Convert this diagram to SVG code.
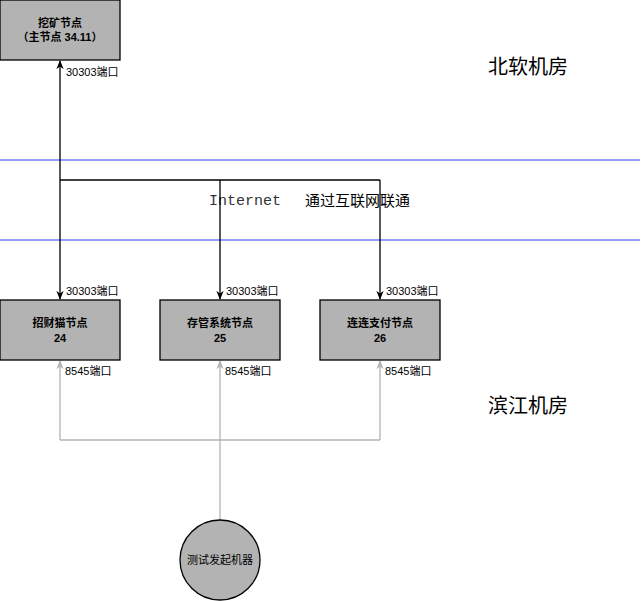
<svg xmlns="http://www.w3.org/2000/svg" width="642" height="601" viewBox="0 0 642 601">
<style>
.box{fill:#b3b3b3;stroke:#000;stroke-width:1.3}
.bt{font-family:"Liberation Sans","Noto Sans CJK SC",sans-serif;font-size:11px;font-weight:bold;text-anchor:middle}
.lbl{font-family:"Liberation Sans","Noto Sans CJK SC",sans-serif;font-size:11px}
.big{font-family:"Noto Sans CJK SC",sans-serif;font-size:20px}
.blk{stroke:#000;fill:none;stroke-width:1.3}
.gry{stroke:#b3b3b3;fill:none;stroke-width:1.3}
</style>
<defs>
<marker id="ab" viewBox="0 0 10 10" refX="9" refY="5" markerWidth="7" markerHeight="7" orient="auto"><path d="M0,1 L10,5 L0,9 L3,5 Z" fill="#000"/></marker>
<marker id="ag" viewBox="0 0 10 10" refX="9" refY="5" markerWidth="7" markerHeight="7" orient="auto"><path d="M0,1 L10,5 L0,9 L3,5 Z" fill="#b3b3b3"/></marker>
</defs>
<rect width="642" height="601" fill="#fff"/>
<g id="zones">
<line x1="0" y1="160" x2="640" y2="160" stroke="#0000ff" stroke-width="0.8"/>
<line x1="0" y1="240" x2="640" y2="240" stroke="#0000ff" stroke-width="0.8"/>
<text x="488" y="74" class="big">北软机房</text>
<text x="488" y="413" class="big">滨江机房</text>
<text x="209" y="205" font-family="Liberation Mono,monospace" font-size="15" fill="#333">Internet</text>
<text x="305" y="206" font-family="Noto Sans CJK SC,sans-serif" font-size="15">通过互联网联通</text>
</g>
<g id="connectors">
<path class="blk" d="M60,180 L60,61" marker-end="url(#ab)"/>
<path class="blk" d="M60,180 L60,299" marker-end="url(#ab)"/>
<path class="blk" d="M60,180 L380,180"/>
<path class="blk" d="M220,180 L220,299" marker-end="url(#ab)"/>
<path class="blk" d="M380,180 L380,299" marker-end="url(#ab)"/>
<path class="gry" d="M220,520 L220,361" marker-end="url(#ag)"/>
<path class="gry" d="M60,440 L380,440"/>
<path class="gry" d="M60,440 L60,361" marker-end="url(#ag)"/>
<path class="gry" d="M380,440 L380,361" marker-end="url(#ag)"/>
<text x="66" y="76" class="lbl">30303端口</text>
<text x="66" y="295" class="lbl">30303端口</text>
<text x="226" y="295" class="lbl">30303端口</text>
<text x="386" y="295" class="lbl">30303端口</text>
<text x="65" y="375" class="lbl">8545端口</text>
<text x="225" y="375" class="lbl">8545端口</text>
<text x="385" y="375" class="lbl">8545端口</text>
</g>
<g id="mine"><rect class="box" x="0" y="0" width="120" height="60"/><text x="60" y="27" class="bt">挖矿节点</text><text x="60" y="41" class="bt">（主节点 34.11）</text></g>
<g id="n24"><rect class="box" x="0" y="300" width="120" height="60"/><text x="60" y="327" class="bt">招财猫节点</text><text x="60" y="342" class="bt">24</text></g>
<g id="n25"><rect class="box" x="160" y="300" width="120" height="60"/><text x="220" y="327" class="bt">存管系统节点</text><text x="220" y="342" class="bt">25</text></g>
<g id="n26"><rect class="box" x="320" y="300" width="120" height="60"/><text x="380" y="327" class="bt">连连支付节点</text><text x="380" y="342" class="bt">26</text></g>
<g id="tester"><circle cx="220" cy="560" r="40" fill="#b3b3b3" stroke="#000" stroke-width="1.3"/><text x="220" y="564" class="lbl" text-anchor="middle">测试发起机器</text></g>
</svg>
